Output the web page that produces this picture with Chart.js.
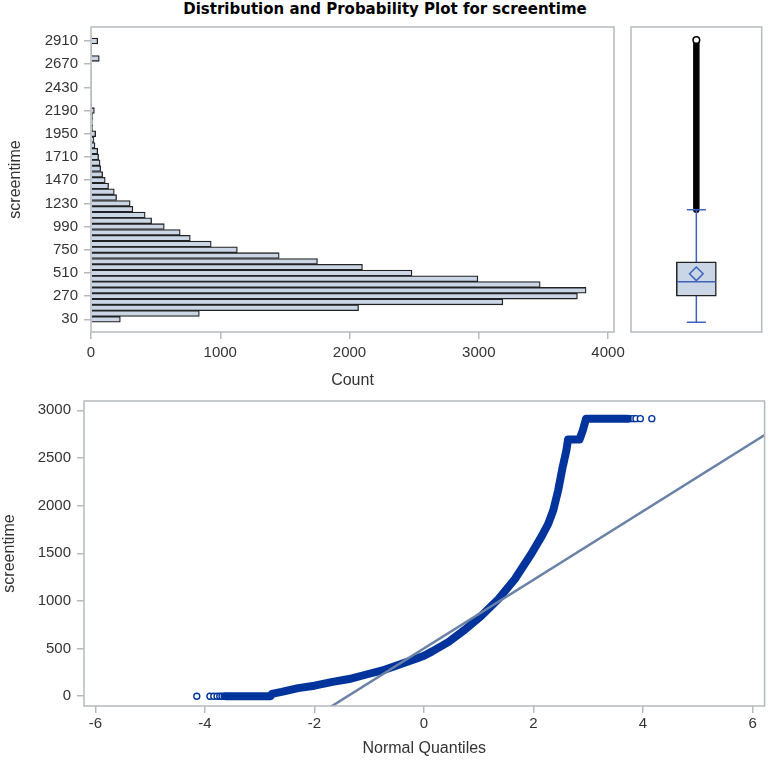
<!DOCTYPE html>
<html>
<head>
<meta charset="utf-8">
<script src="https://cdn.jsdelivr.net/npm/chart.js"></script>
<style>
  html,body{margin:0;padding:0;background:#fff;}
  #wrap{position:relative;width:770px;height:763px;overflow:hidden;font-family:'Liberation Sans',Arial,sans-serif;}
  #title{position:absolute;left:0;top:0;width:770px;text-align:center;font-family:'DejaVu Sans',sans-serif;font-weight:bold;font-size:15px;line-height:19px;color:#000;}
  canvas{position:absolute;}
</style>
</head>
<body>
<div id="wrap">
  <div id="title">Distribution and Probability Plot for screentime</div>
  <canvas id="histChart" width="640" height="400" style="left:0;top:0"></canvas>
  <canvas id="boxChart" width="148" height="400" style="left:622px;top:0"></canvas>
  <canvas id="qqChart" width="770" height="378" style="left:0;top:385px"></canvas>
</div>
<script>
// histogram: bin midpoints (width 60) and counts
const binMids=[30,90,150,210,270,330,390,450,510,570,630,690,750,810,870,930,990,1050,1110,1170,1230,1290,1350,1410,1470,1530,1590,1650,1710,1770,1830,1890,1950,2010,2070,2130,2190,2250,2310,2370,2430,2490,2550,2610,2670,2730,2790,2850,2910];
const binCounts=[227,838,2070,3186,3763,3830,3475,2993,2483,2100,1752,1456,1132,930,768,690,567,469,419,324,303,198,180,136,110,90,75,70,59,52,31,23,36,12,10,12,26,5,4,4,5,4,4,5,6,64,4,4,52];
const binTicks=[30,270,510,750,990,1230,1470,1710,1950,2190,2430,2670,2910];
const countTicks=[0,1000,2000,3000,4000];

// box plot: lower whisker, Q1, median, Q3, upper whisker
const boxFive=[0,269,418,626,1163];
const boxMean=501;
const outlierRange=[1163,2920];

// Q-Q plot: normal quantile vs screentime
const qqQuant=[-3.62,-2.80,-2.78,-2.60,-2.30,-2.00,-1.67,-1.37,-1.07,-0.76,-0.46,-0.16,0.00,0.15,0.45,0.75,1.05,1.36,1.66,1.96,2.15,2.27,2.36,2.45,2.53,2.60,2.63,2.84,2.90,2.96,3.72];
const qqValue=[0,0,25,45,85,110,150,180,225,270,330,390,425,470,570,700,845,1020,1230,1495,1680,1810,1950,2160,2400,2580,2693,2693,2790,2913,2913];
const lowTailQuant=[-4.15,-3.91,-3.84,-3.78,-3.73,-3.69,-3.65];
const lowTailValue=[0,0,0,0,0,0,0];
const highTailQuant=[3.76,3.82,3.87,3.95,4.16];
const highTailValue=[2913,2913,2913,2913,2913];
const refMu=502, refSigma=360;
const qqXTicks=[-6,-4,-2,0,2,4,6];
const qqYTicks=[0,500,1000,1500,2000,2500,3000];

Chart.defaults.font.family="'Liberation Sans', Arial, sans-serif";
Chart.defaults.font.size=15;
Chart.defaults.color='#333';
Chart.defaults.animation=false;
Chart.defaults.plugins.legend.display=false;
Chart.defaults.plugins.tooltip.enabled=false;

const FRAME='#b5babe', TXT='#333', FILL='#cad5e5', EDGE='#222', BLUE='#3d63bd', QQBLUE='#00349c', REF='#6a82a6';

// grey box round each plot area
const framePlugin={id:'frame',afterDraw(ch){ const a=ch.chartArea,c=ch.ctx; c.save(); c.strokeStyle=FRAME; c.lineWidth=1.5; c.strokeRect(a.left,a.top,a.right-a.left,a.bottom-a.top); c.restore(); }};

function axisOpts(o){
  return {type:'linear',min:o.min,max:o.max,offset:false,
    afterBuildTicks:s=>{ s.ticks=o.ticks.map(v=>({value:v})); },
    // fixed axis boxes, no label overhang padding, so the plot areas land where they should
    afterFit:s=>{ if(o.w!=null){ s.width=o.w; s.paddingTop=0; s.paddingBottom=0; } if(o.h!=null){ s.height=o.h; s.paddingLeft=0; s.paddingRight=0; } },
    grid:{drawOnChartArea:false,drawTicks:true,tickLength:7,color:FRAME,lineWidth:1.5,offset:false},
    border:{display:false},
    ticks:{color:TXT,padding:o.pad,autoSkip:false,maxRotation:0,callback:v=>String(v)},
    title:{display:true,text:o.title,color:TXT,font:{size:16},padding:o.tpad}};
}

new Chart(document.getElementById('histChart'),{
  type:'bar',
  data:{datasets:[{data:binMids.map((m,i)=>({x:binCounts[i],y:m})),backgroundColor:FILL,borderColor:EDGE,borderWidth:1.3,barPercentage:1,categoryPercentage:1}]},
  options:{responsive:false,indexAxis:'y',layout:{padding:{left:0,right:26,top:27,bottom:0}},
    scales:{
      x:axisOpts({min:0,max:4046,ticks:countTicks,h:68,pad:5,title:'Count',tpad:{top:0,bottom:10}}),
      y:axisOpts({min:-101,max:3055,ticks:binTicks,w:91,pad:6,title:'screentime',tpad:{top:6,bottom:0}})
    }},
  plugins:[framePlugin]
});

const CAP=0.073, HALF=0.148;
const seg=(pts,extra)=>Object.assign({type:'line',data:pts,borderColor:BLUE,borderWidth:1.5,pointRadius:0},extra||{});
new Chart(document.getElementById('boxChart'),{
  type:'bar',
  data:{datasets:[
    {type:'line',order:6,data:[{x:.5,y:outlierRange[0]},{x:.5,y:outlierRange[1]}],borderColor:'#000',borderWidth:6.5,borderCapStyle:'round',
      pointRadius:[0,3.3],pointBorderColor:'#000',pointBackgroundColor:'#fff',pointBorderWidth:1.5},
    seg([{x:.5,y:boxFive[0]},{x:.5,y:boxFive[4]}],{order:5}),
    seg([{x:.5-CAP,y:boxFive[4]},{x:.5+CAP,y:boxFive[4]}],{order:4}),
    seg([{x:.5-CAP,y:boxFive[0]},{x:.5+CAP,y:boxFive[0]}],{order:4}),
    {type:'bar',order:3,data:[{x:.5,y:[boxFive[1],boxFive[3]]}],backgroundColor:FILL,borderColor:EDGE,borderWidth:1.5,borderSkipped:false,barThickness:40},
    seg([{x:.5-HALF,y:boxFive[2]},{x:.5+HALF,y:boxFive[2]}],{order:2}),
    {type:'scatter',order:1,data:[{x:.5,y:boxMean}],pointStyle:'rectRot',pointRadius:6.8,pointBorderColor:BLUE,pointBackgroundColor:'rgba(0,0,0,0)',pointBorderWidth:1.5}
  ]},
  options:{responsive:false,layout:{padding:{left:9,right:4,top:27,bottom:68}},
    scales:{x:{type:'linear',display:false,min:0,max:1,offset:false},y:{type:'linear',display:false,min:-101,max:3055}}},
  plugins:[framePlugin]
});

const qqMin=-6.21, qqMax=6.22;
new Chart(document.getElementById('qqChart'),{
  type:'scatter',
  data:{datasets:[
    {type:'line',order:0,data:[qqMin,qqMax].map(q=>({x:q,y:refMu+refSigma*q})),borderColor:REF,borderWidth:2.5,pointRadius:0},
    {type:'line',order:1,data:qqQuant.map((q,i)=>({x:q,y:qqValue[i]})),borderColor:QQBLUE,borderWidth:8,borderJoinStyle:'round',borderCapStyle:'round',pointRadius:0,tension:0},
    {order:2,data:lowTailQuant.map((q,i)=>({x:q,y:lowTailValue[i]})).concat(highTailQuant.map((q,i)=>({x:q,y:highTailValue[i]}))),
      pointRadius:3,pointBorderWidth:1.4,pointBorderColor:QQBLUE,pointBackgroundColor:'#fff'}
  ]},
  options:{responsive:false,layout:{padding:{left:0,right:3,top:16,bottom:0}},
    scales:{
      x:axisOpts({min:qqMin,max:qqMax,ticks:qqXTicks,h:57,pad:2,title:'Normal Quantiles',tpad:{top:0,bottom:5}}),
      y:axisOpts({min:-103,max:3098,ticks:qqYTicks,w:84,pad:6,title:'screentime',tpad:{top:0,bottom:0}})
    }},
  plugins:[framePlugin]
});
</script>
</body>
</html>
